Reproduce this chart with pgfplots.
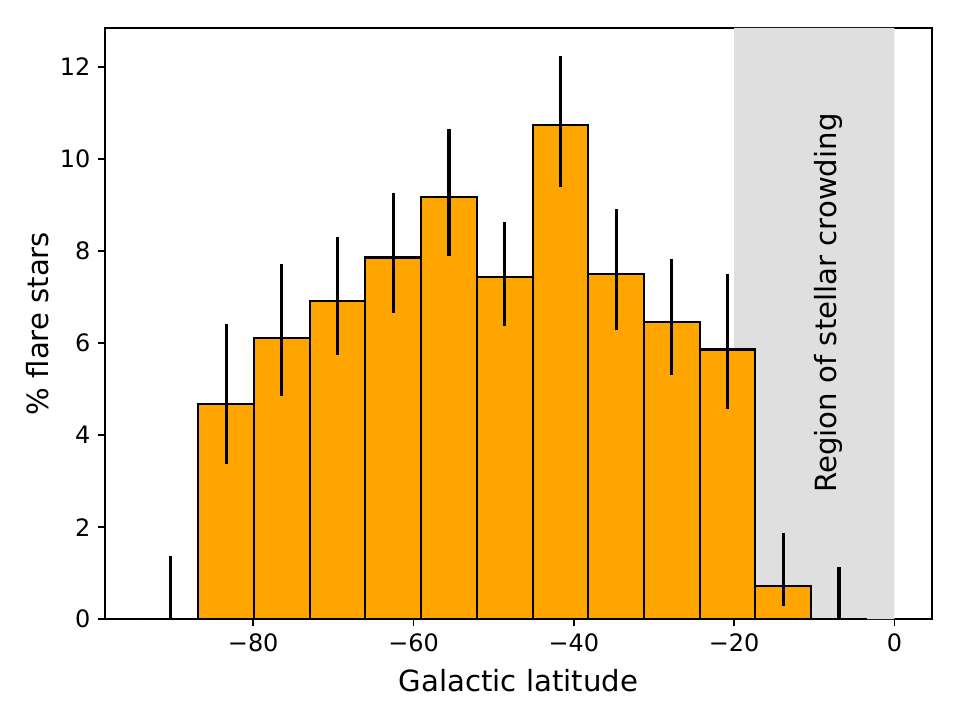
\documentclass[border=0pt]{standalone}
\usepackage{fontspec}
\setmainfont{DejaVu Sans}
\usepackage{pgfplots}
\usepackage{pgfplotstable}
\pgfplotsset{compat=1.18}

\definecolor{barorange}{HTML}{FFA500}
\definecolor{spangray}{RGB}{223,223,223}

% bin centre, percentage of flare stars, upper and lower error
\pgfplotstableread{
x        y      ep    em
-90.325  0.00   1.38  0.00
-83.375  4.67   1.74  1.29
-76.425  6.12   1.59  1.28
-69.475  6.91   1.39  1.17
-62.525  7.86   1.41  1.21
-55.575  9.18   1.47  1.29
-48.625  7.44   1.20  1.06
-41.675  10.73  1.51  1.34
-34.725  7.50   1.41  1.21
-27.775  6.45   1.38  1.15
-20.825  5.86   1.64  1.30
-13.875  0.73   1.15  0.45
-6.925   0.00   1.14  0.00
}\flaredata

\begin{document}
\begin{tikzpicture}
\path[use as bounding box] (-50.4pt,-48.4pt) rectangle (410.4pt,297.2pt);
\begin{axis}[
  scale only axis,
  width=397pt, height=283.8pt,
  xmin=-98.49, xmax=4.69,
  ymin=0, ymax=12.85,
  xtick={-80,-60,-40,-20,0},
  xticklabels={−80,−60,−40,−20,0},
  ytick={0,2,4,6,8,10,12},
  tick pos=left,
  tick align=outside,
  major tick length=3.5pt,
  tick style={black, line width=0.8pt},
  axis line style={line width=0.8pt},
  /pgf/number format/assume math mode=true,
  ticklabel style={font=\fontsize{11.5}{13}\selectfont},
  label style={font=\fontsize{14}{16}\selectfont},
  xlabel={Galactic latitude},
  ylabel={\% flare stars},
  xlabel style={at={(axis description cs:0.5,0)}, anchor=center, yshift=-29.3pt},
  ylabel style={at={(axis description cs:0,0.5)}, anchor=center, rotate=0, yshift=32.2pt},
]
% shaded latitude band near the Galactic plane
\addplot[fill=spangray, draw=none, forget plot]
  coordinates {(-20,0) (-20,12.85) (0,12.85) (0,0)} \closedcycle;

% histogram bars
\addplot[ybar, bar width=6.95, bar shift=0pt, fill=barorange, draw=black, line width=1pt]
  table[x=x, y=y] {\flaredata};

% asymmetric error bars
\addplot[draw=none, mark=none, forget plot,
  error bars/.cd, y dir=both, y explicit, error mark=none,
  error bar style={draw=black, line width=1.5pt}]
  table[x=x, y=y, y error plus=ep, y error minus=em] {\flaredata};

\node[rotate=90, font=\fontsize{14}{16}\selectfont] at (axis cs:-8.3,6.87) {Region of stellar crowding};
\end{axis}
\end{tikzpicture}
\end{document}
